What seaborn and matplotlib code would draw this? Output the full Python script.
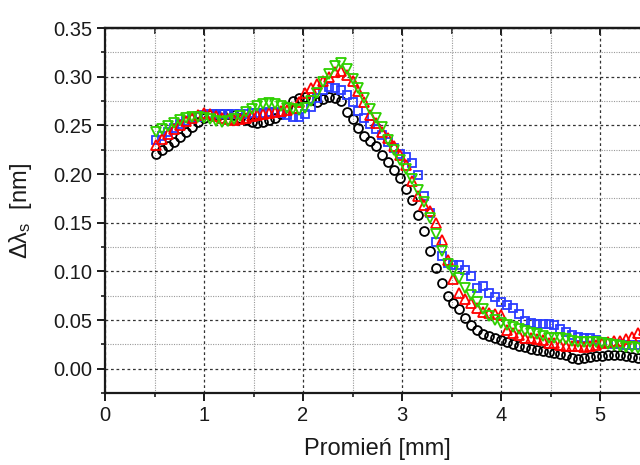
import numpy as np
import pandas as pd
import matplotlib
matplotlib.use("Agg")
import matplotlib.pyplot as plt
from matplotlib.ticker import MultipleLocator, FormatStrFormatter, NullFormatter
import seaborn as sns

# ---- data ----
radius_mm = [0.52, 0.58, 0.64, 0.70, 0.76, 0.82, 0.88, 0.94, 1.00, 1.06,
             1.12, 1.18, 1.24, 1.30, 1.36, 1.42, 1.48, 1.54, 1.60, 1.66,
             1.72, 1.78, 1.84, 1.90, 1.96, 2.02, 2.08, 2.14, 2.20, 2.26,
             2.32, 2.38, 2.44, 2.50, 2.56, 2.62, 2.68, 2.74, 2.80, 2.86,
             2.92, 2.98, 3.04, 3.10, 3.16, 3.22, 3.28, 3.34, 3.40, 3.46,
             3.52, 3.58, 3.64, 3.70, 3.76, 3.82, 3.88, 3.94, 4.00, 4.06,
             4.12, 4.18, 4.24, 4.30, 4.36, 4.42, 4.48, 4.54, 4.60, 4.66,
             4.72, 4.78, 4.84, 4.90, 4.96, 5.02, 5.08, 5.14, 5.20, 5.26,
             5.32, 5.38, 5.44]

black_circles = [0.221, 0.225, 0.229, 0.233, 0.238, 0.243, 0.248, 0.253, 0.258, 0.261,
                 0.262, 0.262, 0.262, 0.261, 0.258, 0.255, 0.253, 0.252, 0.253, 0.255,
                 0.258, 0.262, 0.269, 0.275, 0.278, 0.279, 0.276, 0.274, 0.277, 0.279,
                 0.278, 0.275, 0.264, 0.256, 0.247, 0.239, 0.234, 0.229, 0.220, 0.212,
                 0.204, 0.196, 0.185, 0.173, 0.158, 0.141, 0.121, 0.103, 0.088, 0.075,
                 0.067, 0.061, 0.052, 0.045, 0.040, 0.036, 0.034, 0.031, 0.029, 0.027,
                 0.025, 0.023, 0.022, 0.020, 0.019, 0.018, 0.017, 0.016, 0.015, 0.014,
                 0.011, 0.010, 0.011, 0.012, 0.013, 0.013, 0.014, 0.014, 0.014, 0.013,
                 0.012, 0.011, 0.011]

blue_squares = [0.235, 0.239, 0.243, 0.247, 0.251, 0.254, 0.257, 0.259, 0.261, 0.262,
                0.262, 0.262, 0.262, 0.262, 0.262, 0.262, 0.263, 0.263, 0.263, 0.264,
                0.264, 0.263, 0.261, 0.259, 0.259, 0.262, 0.269, 0.278, 0.286, 0.289,
                0.288, 0.286, 0.281, 0.274, 0.265, 0.258, 0.251, 0.246, 0.240, 0.233,
                0.227, 0.221, 0.217, 0.211, 0.199, 0.177, 0.160, 0.130, 0.116, 0.109,
                0.107, 0.106, 0.101, 0.095, 0.083, 0.085, 0.078, 0.074, 0.068, 0.065,
                0.062, 0.056, 0.049, 0.047, 0.046, 0.046, 0.046, 0.045, 0.041, 0.038,
                0.035, 0.033, 0.032, 0.031, 0.029, 0.027, 0.026, 0.025, 0.025, 0.024,
                0.024, 0.024, 0.024]

red_triangles = [0.230, 0.236, 0.241, 0.246, 0.250, 0.254, 0.258, 0.261, 0.263, 0.262,
                 0.260, 0.258, 0.256, 0.255, 0.256, 0.258, 0.260, 0.261, 0.262, 0.263,
                 0.264, 0.265, 0.266, 0.268, 0.274, 0.283, 0.288, 0.292, 0.296, 0.300,
                 0.305, 0.306, 0.302, 0.296, 0.285, 0.274, 0.261, 0.252, 0.243, 0.237,
                 0.229, 0.220, 0.209, 0.193, 0.177, 0.168, 0.162, 0.150, 0.132, 0.112,
                 0.092, 0.078, 0.072, 0.067, 0.062, 0.058, 0.057, 0.056, 0.055, 0.040,
                 0.037, 0.035, 0.032, 0.031, 0.030, 0.029, 0.026, 0.026, 0.024, 0.023,
                 0.023, 0.023, 0.022, 0.023, 0.024, 0.026, 0.027, 0.028, 0.028, 0.030,
                 0.033, 0.037, 0.040]

green_triangles = [0.243, 0.246, 0.249, 0.252, 0.255, 0.258, 0.259, 0.259, 0.258, 0.256,
                   0.254, 0.253, 0.254, 0.257, 0.260, 0.264, 0.267, 0.270, 0.272, 0.273,
                   0.272, 0.270, 0.268, 0.267, 0.266, 0.268, 0.275, 0.283, 0.295, 0.303,
                   0.311, 0.314, 0.308, 0.298, 0.288, 0.278, 0.267, 0.258, 0.248, 0.235,
                   0.225, 0.214, 0.205, 0.195, 0.184, 0.171, 0.155, 0.138, 0.121, 0.108,
                   0.100, 0.093, 0.083, 0.076, 0.069, 0.061, 0.054, 0.050, 0.047, 0.045,
                   0.043, 0.041, 0.039, 0.037, 0.036, 0.034, 0.032, 0.031, 0.031, 0.030,
                   0.028, 0.027, 0.027, 0.027, 0.027, 0.026, 0.025, 0.024, 0.023, 0.022,
                   0.022, 0.021, 0.021]

x_label = "Promień [mm]"
y_label = r"$\mathrm{\Delta\lambda}_{\mathrm{s}}$  [nm]"

# ---- styling ----
sns.set_style("ticks")
plt.rcParams["font.family"] = ["Liberation Sans", "DejaVu Sans"]
plt.rcParams["mathtext.fontset"] = "custom"
plt.rcParams["mathtext.rm"] = "Liberation Sans"
plt.rcParams["mathtext.it"] = "Liberation Sans:italic"
plt.rcParams["mathtext.bf"] = "Liberation Sans:bold"

fig = plt.figure(figsize=(6.4, 4.65), dpi=100)
ax = fig.add_axes([105 / 640, 72 / 465, 544.5 / 640, 365 / 465])

series = [
    (black_circles, "o", "black", 6.4),
    (blue_squares, "s", "#2a3cff", 5.8),
    (red_triangles, "^", "#ff0000", 6.6),
    (green_triangles, "v", "#2ed000", 6.6),
]
for vals, mk, col, ms in series:
    df = pd.DataFrame({"r": radius_mm, "d": vals})
    sns.lineplot(data=df, x="r", y="d", ax=ax, linestyle="", marker=mk,
                 markersize=ms, markerfacecolor="none", markeredgecolor=col,
                 markeredgewidth=1.3, color=col, zorder=3)

ax.set_xlim(0, 5.5)
ax.set_ylim(-0.025, 0.35)
ax.xaxis.set_major_locator(MultipleLocator(1))
ax.xaxis.set_minor_locator(MultipleLocator(0.5))
ax.yaxis.set_major_locator(MultipleLocator(0.05))
ax.yaxis.set_minor_locator(MultipleLocator(0.025))
ax.yaxis.set_major_formatter(FormatStrFormatter("%.2f"))
ax.xaxis.set_major_formatter(FormatStrFormatter("%d"))

ax.grid(which="major", color="#333333", linestyle=(0, (2.2, 2.2)), linewidth=0.9, zorder=0)
ax.grid(which="minor", color="#9a9a9a", linestyle=(0, (1, 1.2)), linewidth=0.8, zorder=0)
ax.set_axisbelow(True)

for s in ["left", "bottom", "top"]:
    ax.spines[s].set_linewidth(1.6)
    ax.spines[s].set_color("#1a1a1a")
ax.spines["right"].set_visible(False)

ax.tick_params(which="major", direction="out", length=6, width=1.4, labelsize=14.5,
               colors="#1a1a1a", pad=3)
ax.tick_params(which="minor", direction="out", length=3, width=1.2, colors="#1a1a1a")

# inward ticks on the top edge
top = ax.secondary_xaxis("top")
top.xaxis.set_major_locator(MultipleLocator(1))
top.xaxis.set_minor_locator(MultipleLocator(0.5))
top.xaxis.set_major_formatter(NullFormatter())
top.tick_params(which="major", direction="in", length=5, width=1.4, colors="#1a1a1a")
top.tick_params(which="minor", direction="in", length=4, width=1.2, colors="#1a1a1a")
top.spines["top"].set_linewidth(1.6)
top.spines["top"].set_color("#1a1a1a")

ax.set_xlabel(x_label, fontsize=17, color="#1a1a1a", labelpad=10)
ax.set_ylabel(y_label, fontsize=17, color="#1a1a1a", labelpad=14)
if ax.get_legend() is not None:
    ax.get_legend().remove()

fig.savefig("out.png", dpi=100)
